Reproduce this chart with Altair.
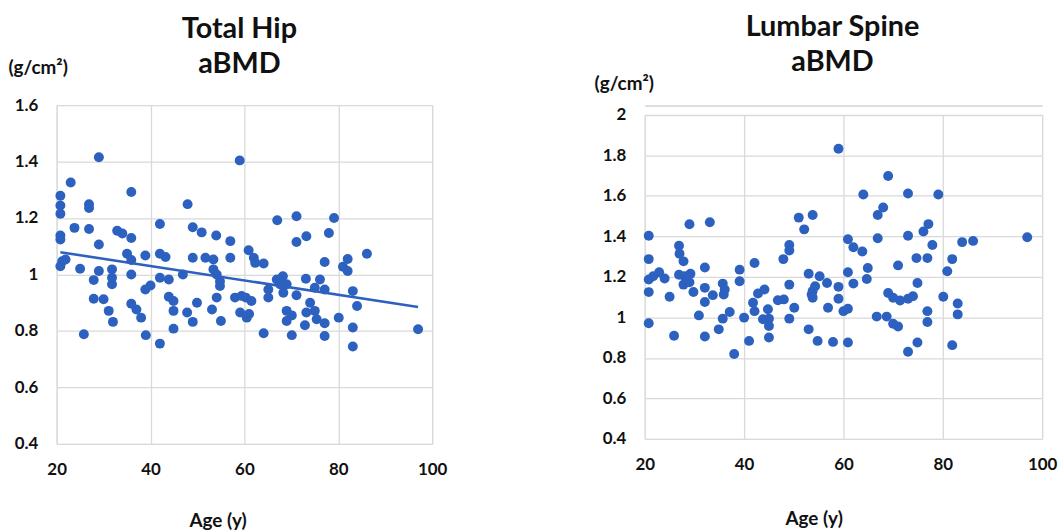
import altair as alt
import pandas as pd

# ---------------- data ----------------
hip_age = [29.0, 59.0, 23.0, 35.9, 20.8, 26.9, 20.8, 26.9, 20.8, 47.9, 42.0, 23.8, 26.9, 20.8, 20.8,
           32.9, 34.0, 35.9, 29.0, 49.0, 50.9, 54.0, 57.0, 35.0, 38.9, 42.0, 43.2, 49.0, 51.7, 53.4,
           57.0, 60.9, 21.2, 21.9, 20.8, 35.9, 25.0, 29.0, 27.9, 31.8, 31.8, 31.8, 35.9, 38.9, 40.0,
           42.0, 43.9, 46.9, 53.4, 54.1, 54.8, 54.8, 27.9, 30.0, 31.1, 32.0, 35.9, 37.0, 38.0, 43.9,
           44.9, 44.9, 47.8, 49.0, 49.9, 53.1, 54.1, 55.0, 58.0, 59.4, 59.1, 60.5, 25.8, 39.0, 42.0,
           44.9,
           67.0, 71.1, 79.1, 73.2, 71.1, 78.0, 62.0, 62.3, 64.1, 86.1, 82.0, 81.0, 82.0, 77.1, 66.9,
           68.2, 67.6, 69.0, 68.3, 73.1, 76.1, 75.0, 77.1, 65.1, 65.1, 71.1, 83.1, 84.0, 69.0, 70.1,
           69.0, 74.0, 73.2, 75.0, 75.4, 72.9, 77.1, 80.1, 83.1, 77.1, 83.1, 97.0, 70.1, 64.1, 60.3,
           61.5, 61.0]
hip_bmd = [1.415, 1.404, 1.326, 1.292, 1.279, 1.249, 1.244, 1.235, 1.215, 1.249, 1.179, 1.165, 1.161, 1.138, 1.124,
           1.155, 1.145, 1.129, 1.106, 1.167, 1.149, 1.138, 1.118, 1.073, 1.067, 1.073, 1.062, 1.059, 1.059, 1.053,
           1.059, 1.086, 1.047, 1.053, 1.029, 1.051, 1.020, 1.012, 0.980, 1.018, 0.988, 0.965, 1.000, 0.947, 0.961,
           0.988, 0.982, 1.000, 1.018, 1.000, 0.976, 0.959, 0.914, 0.912, 0.871, 0.832, 0.896, 0.876, 0.847, 0.921,
           0.906, 0.871, 0.865, 0.832, 0.900, 0.876, 0.918, 0.835, 0.918, 0.924, 0.865, 0.847, 0.788, 0.785, 0.755,
           0.808,
           1.192, 1.206, 1.200, 1.135, 1.115, 1.147, 1.059, 1.041, 1.039, 1.073, 1.055, 1.027, 1.012, 1.044, 0.982,
           0.994, 0.965, 0.965, 0.935, 0.985, 0.982, 0.953, 0.947, 0.947, 0.918, 0.926, 0.941, 0.888, 0.871, 0.855,
           0.835, 0.900, 0.865, 0.871, 0.841, 0.820, 0.827, 0.847, 0.812, 0.782, 0.745, 0.806, 0.785, 0.792, 0.918,
           0.906, 0.860]

spine_age = [20.8, 20.8, 20.8, 20.8, 20.8, 21.7, 22.9, 24.0, 25.0, 25.9, 26.9, 27.0, 27.8, 26.9, 28.0,
             27.8, 29.0, 29.2, 29.0, 29.8, 30.9, 32.1, 32.1, 32.1, 32.1, 33.1, 33.7, 34.9, 35.7, 35.9,
             36.1, 35.7, 37.1, 38.0, 39.1, 39.1, 40.0, 41.0, 42.1, 41.8, 42.1, 42.8, 44.1, 43.8, 44.8,
             45.0, 45.0, 45.0, 46.8, 48.0, 47.9, 49.1, 49.1, 49.1, 49.1, 50.1, 51.0, 52.1, 53.8, 53.0,
             53.8, 53.8, 53.0,
             59.0, 69.0, 64.0, 73.0, 79.1, 68.0, 66.9, 60.9, 62.0, 63.8, 66.9, 73.0, 76.1, 77.1, 77.9,
             83.9, 86.1, 97.0, 71.0, 74.7, 76.9, 81.9, 80.9, 64.9, 64.7, 60.9, 62.0, 55.2, 54.3, 56.7,
             59.0, 53.6, 59.0, 56.9, 60.0, 60.9, 74.9, 69.0, 70.0, 71.4, 73.0, 74.0, 80.1, 83.0, 83.0,
             76.9, 76.9, 66.7, 68.7, 70.0, 71.0, 54.8, 57.9, 60.9, 74.9, 73.0, 81.9]
spine_bmd = [1.403, 1.288, 1.187, 1.125, 0.971, 1.203, 1.223, 1.192, 1.102, 0.909, 1.354, 1.314, 1.277, 1.211, 1.203,
             1.162, 1.460, 1.216, 1.174, 1.126, 1.010, 1.247, 1.146, 1.076, 0.906, 1.470, 1.110, 0.941, 1.167, 1.113,
             1.138, 0.994, 1.027, 0.819, 1.236, 1.179, 0.999, 0.884, 1.269, 1.072, 1.031, 1.118, 1.138, 0.991, 1.040,
             0.994, 0.958, 0.901, 1.085, 1.089, 1.288, 1.358, 1.331, 1.162, 0.994, 1.048, 1.493, 1.435, 1.506, 1.216,
             1.130, 1.097, 0.941,
             1.833, 1.699, 1.607, 1.612, 1.607, 1.543, 1.506, 1.386, 1.347, 1.326, 1.391, 1.403, 1.424, 1.461, 1.358,
             1.372, 1.378, 1.396, 1.257, 1.293, 1.293, 1.288, 1.228, 1.244, 1.190, 1.223, 1.167, 1.203, 1.154, 1.170,
             1.151, 1.113, 1.092, 1.048, 1.031, 1.043, 1.170, 1.121, 1.097, 1.084, 1.092, 1.105, 1.102, 1.069, 1.015,
             1.031, 0.977, 1.004, 1.004, 0.969, 0.955, 0.884, 0.879, 0.876, 0.876, 0.830, 0.863]

x_ticks = [20, 40, 60, 80, 100]
hip_ticks = [0.4, 0.6, 0.8, 1.0, 1.2, 1.4, 1.6]
spine_ticks = [0.4, 0.6, 0.8, 1.0, 1.2, 1.4, 1.6, 1.8, 2.0]

hip = pd.DataFrame({"age": hip_age, "bmd": hip_bmd})
spine = pd.DataFrame({"age": spine_age, "bmd": spine_bmd})

FONT = "Lato"
BLUE = "#2d61bf"
GRID = "#d9d9d9"


def panel(df, yticks, w, h, title, ux, uy, ax, ay, tdx, toff, fit=False):
    xs = alt.X("age:Q",
               scale=alt.Scale(domain=[x_ticks[0], x_ticks[-1]], nice=False, zero=False),
               axis=alt.Axis(values=x_ticks, title="Age (y)", grid=True, gridColor=GRID,
                             gridWidth=1.3, domain=False, ticks=False, tickSize=0,
                             labelFont=FONT, labelFontSize=17, labelFontWeight="bold",
                             labelColor="#111", labelPadding=18, labelFlush=False,
                             titleFont=FONT, titleFontSize=19, titleFontWeight="bold",
                             titleColor="#111", titleX=ax, titleY=ay,
                             titleAnchor="start", titleAlign="center", titleBaseline="alphabetic"))
    ys = alt.Y("bmd:Q",
               scale=alt.Scale(domain=[yticks[0], yticks[-1]], nice=False, zero=False),
               axis=alt.Axis(values=yticks, format="~g", title="(g/cm²)", grid=True,
                             gridColor=GRID, gridWidth=1.3, domain=False, ticks=False,
                             tickSize=0, labelFont=FONT, labelFontSize=17,
                             labelFontWeight="bold", labelColor="#111", labelPadding=19,
                             labelFlush=False,
                             titleFont=FONT, titleFontSize=19, titleFontWeight="bold",
                             titleColor="#111", titleAngle=0, titleAlign="left",
                             titleBaseline="alphabetic", titleX=ux, titleY=uy))
    base = alt.Chart(df)
    pts = base.mark_circle(size=100, color=BLUE, opacity=1).encode(x=xs, y=ys)
    layers = [pts]
    if fit:
        line = base.transform_regression("age", "bmd").mark_line(
            color=BLUE, strokeWidth=2.6).encode(x="age:Q", y="bmd:Q")
        layers.append(line)
    return alt.layer(*layers).properties(
        width=w, height=h,
        title=alt.TitleParams(title, font=FONT, fontSize=29, fontWeight="bold",
                              color="#111", lineHeight=36, anchor="middle",
                              frame="group", dx=tdx, offset=toff))


left = panel(hip, hip_ticks, 378, 341, ["Total Hip", "aBMD"],
             ux=-49, uy=-32, ax=162, ay=83, tdx=-5, toff=-21, fit=True)
right_main = panel(spine, spine_ticks, 400, 326, ["Lumbar Spine", "aBMD"],
                   ux=-51, uy=-26, ax=170, ay=86, tdx=-11, toff=-3)

spacer = alt.Chart(pd.DataFrame({"a": [0]})).mark_point(opacity=0).encode(
    x=alt.value(0), y=alt.value(0)).properties(width=400, height=1)

right = alt.vconcat(spacer, right_main, spacing=9, bounds="flush")

chart = alt.hconcat(left, right, spacing=214, bounds="flush").properties(
    padding={"left": 7, "top": 10, "right": 5, "bottom": 0}
).configure_view(strokeWidth=0).configure(background="white")

chart.save("out.html", embed_options={"renderer": "svg", "actions": False})
